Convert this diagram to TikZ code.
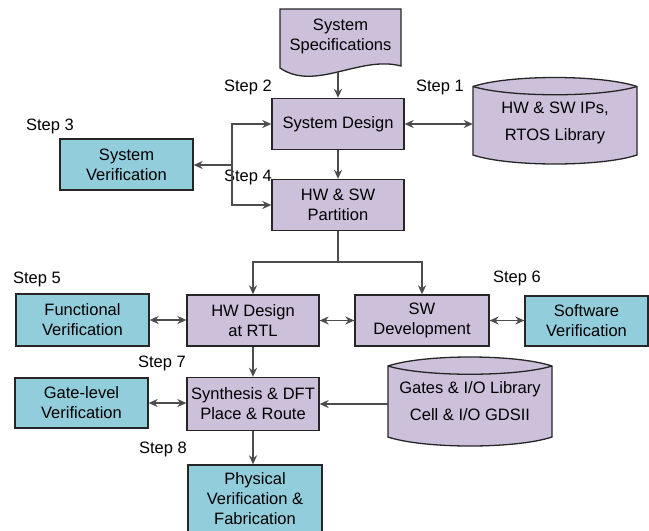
\documentclass[tikz,border=0pt]{standalone}
\usepackage{fontspec}
\setmainfont{Liberation Sans}
\usetikzlibrary{arrows.meta, calc}
\definecolor{procfill}{RGB}{204,192,218}
\definecolor{verifill}{RGB}{146,205,220}
\colorlet{flowgray}{black!70}
\colorlet{edgegray}{black!85}
\newcommand{\libdrum}[6]{%
  \draw[drum] (#2,#4) .. controls ({#2+0.22*(#3-#2)},{#4-12}) and ({#3-0.22*(#3-#2)},{#4-12}) .. (#3,#4)
    -- (#3,#5) .. controls ({#3-0.22*(#3-#2)},{#5+12}) and ({#2+0.22*(#3-#2)},{#5+12}) .. (#2,#5) -- cycle;
  \draw[drum, fill=none] (#2,#4) .. controls ({#2+0.22*(#3-#2)},{#4+11}) and ({#3-0.22*(#3-#2)},{#4+11}) .. (#3,#4);
  \node[drumtext, minimum width={#3-#2}, minimum height={#5-#4}] (#1) at ({(#2+#3)/2},{(#4+#5)/2}) {#6};}

\begin{document}
\begin{tikzpicture}[x=1pt, y=-1pt, >={Stealth[length=9pt,width=8pt]},
    every node/.style={font=\fontsize{16.5pt}{20pt}\selectfont},
    box/.style={draw=edgegray, line width=1.3pt, align=center, minimum width=132pt, minimum height=51pt, inner sep=0pt},
    proc/.style={box, fill=procfill},
    verif/.style={box, fill=verifill},
    drum/.style={draw=edgegray, line width=1.3pt, fill=procfill},
    drumtext/.style={align=center, inner sep=0pt, text depth=0pt},
    steplabel/.style={inner sep=0pt},
    flow/.style={->, draw=flowgray, line width=1.6pt},
    link/.style={<->, draw=flowgray, line width=1.6pt},
    wire/.style={draw=flowgray, line width=1.6pt}]
    \useasboundingbox (0,0) rectangle (649,531);
    % system level
    \draw[drum] (280,9) -- (401,9) -- (401,66) .. controls (360,55) and (315,92) .. (280,68) -- cycle;
    \node[drumtext] (spec) at (340.5,35) {System\\Specifications};
    \coordinate (specout) at (338,72);
    \node[proc] (design) at (338,124) {System Design};
    \node[verif, minimum width=133pt] (sysver) at (126.5,164.5) {System\\Verification};
    \node[proc] (partition) at (338,205) {HW \& SW\\Partition};
    \libdrum{ips}{473}{637}{86.5}{155}{HW \& SW IPs,\\[7pt]RTOS Library}
    % hw / sw level
    \node[verif, minimum width=133pt, minimum height=52pt] (funcver) at (82.5,320) {Functional\\Verification};
    \node[proc] (hwdesign) at (253,320.5) {HW Design\\at RTL};
    \node[proc, minimum width=134pt] (swdev) at (422,320.5) {SW\\Development};
    \node[verif, minimum width=123pt, minimum height=50pt] (swver) at (586.5,321) {Software\\Verification};
    \node[verif, minimum width=133pt, minimum height=50pt] (gatever) at (81.5,403) {Gate-level\\Verification};
    \node[proc, minimum height=53pt] (synth) at (253,404) {Synthesis \& DFT\\Place \& Route};
    \libdrum{gates}{388}{552}{366}{437}{Gates \& I/O Library\\[7pt]Cell \& I/O GDSII}
    \node[verif, minimum width=134pt, minimum height=68pt] (phys) at (255,499) {Physical\\Verification \&\\Fabrication};
    \foreach \n/\px/\py in {1/440/87, 2/248/87, 3/50/126, 4/248/177, 5/37/279, 6/517/278, 7/162/363, 8/163/449}
      \node[steplabel] (step\n) at (\px,\py) {Step \n};
    % connectors
    \draw[flow] (specout) -- (design);
    \draw[link] (design.east) -- (design.east -| ips.west);
    \draw[flow] (design) -- (partition);
    \coordinate (bus) at (232,165);
    \draw[flow] (bus) -- (sysver.east |- bus);
    \draw[link] (design.west) -| (bus) |- (partition.west);
    \coordinate (split) at (338,262);
    \draw[wire] (partition) -- (split);
    \draw[flow] (split) -| (hwdesign);
    \draw[flow] (split) -| (swdev);
    \draw[link] (funcver.east) -- (funcver.east -| hwdesign.west);
    \draw[link] (hwdesign) -- (swdev);
    \draw[link] (swdev.east) -- (swdev.east -| swver.west);
    \draw[link] (gatever.east) -- (gatever.east -| synth.west);
    \draw[flow] (hwdesign) -- (synth);
    \draw[flow] (gates.west |- synth) -- (synth);
    \draw[flow] (synth.south) -- (synth.south |- phys.north);
  \end{tikzpicture}
\end{document}
